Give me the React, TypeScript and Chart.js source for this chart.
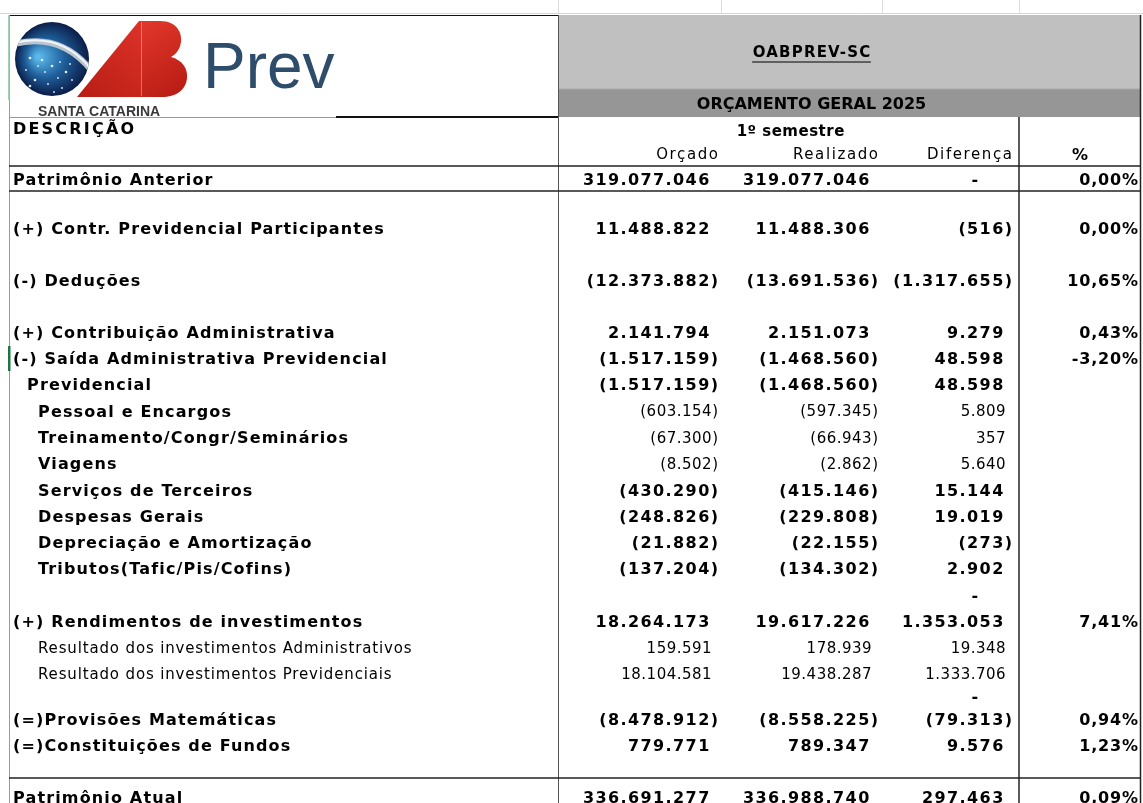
import React, { useEffect, useRef } from 'react';
import { Chart, registerables } from 'chart.js';

Chart.register(...registerables);

// ---------------- DATA ----------------
const sheetTitle = 'OABPREV-SC';
const budgetTitle = 'ORÇAMENTO GERAL 2025';
const periodLabel = '1º semestre';
const descHeader = 'DESCRIÇÃO';
const columnHeaders = ['Orçado', 'Realizado', 'Diferença', '%'];
const logoWord = 'Prev';
const logoSub = 'SANTA CATARINA';

const rowLabels = [
  'Patrimônio Anterior',
  '',
  '(+) Contr. Previdencial Participantes',
  '',
  '(-) Deduções',
  '',
  '(+) Contribuição Administrativa',
  '(-) Saída Administrativa Previdencial',
  'Previdencial',
  'Pessoal e Encargos',
  'Treinamento/Congr/Seminários',
  'Viagens',
  'Serviços de Terceiros',
  'Despesas Gerais',
  'Depreciação e Amortização',
  'Tributos(Tafic/Pis/Cofins)',
  '',
  '(+) Rendimentos de investimentos',
  'Resultado dos investimentos Administrativos',
  'Resultado dos investimentos Previdenciais',
  '',
  '(=)Provisões Matemáticas',
  '(=)Constituições de Fundos',
  '',
  'Patrimônio Atual',
];
const rowLevel = [0, 0, 0, 0, 0, 0, 0, 0, 1, 2, 2, 2, 2, 2, 2, 2, 0, 0, 2, 2, 0, 0, 0, 0, 0];
const labelBold = [1, 1, 1, 1, 1, 1, 1, 1, 1, 1, 1, 1, 1, 1, 1, 1, 1, 1, 0, 0, 1, 1, 1, 1, 1];
const valueBold = [1, 1, 1, 1, 1, 1, 1, 1, 1, 0, 0, 0, 1, 1, 1, 1, 1, 1, 0, 0, 1, 1, 1, 1, 1];

const orcado: (number | null)[] = [
  319077046, null, 11488822, null, -12373882, null, 2141794, -1517159, -1517159, -603154,
  -67300, -8502, -430290, -248826, -21882, -137204, null, 18264173, 159591, 18104581,
  null, -8478912, 779771, null, 336691277,
];
const realizado: (number | null)[] = [
  319077046, null, 11488306, null, -13691536, null, 2151073, -1468560, -1468560, -597345,
  -66943, -2862, -415146, -229808, -22155, -134302, null, 19617226, 178939, 19438287,
  null, -8558225, 789347, null, 336988740,
];
const diferenca: (number | null)[] = [
  0, null, -516, null, -1317655, null, 9279, 48598, 48598, 5809,
  357, 5640, 15144, 19019, -273, 2902, 0, 1353053, 19348, 1333706,
  0, -79313, 9576, null, 297463,
];
const percentual: (number | null)[] = [
  0.0, null, 0.0, null, 10.65, null, 0.43, -3.2, null, null,
  null, null, null, null, null, null, null, 7.41, null, null,
  null, 0.94, 1.23, null, 0.09,
];

// ---------------- LAYOUT / STYLE ----------------
const W = 1143;
const H = 803;
const COL_EDGES = [9, 558, 721, 882, 1019, 1141];
const COL_RIGHT = [718, 878, 1012, 1138];
const INDENT = [13, 27, 38];
// sheet row heights: title block, band, description row, column header row, then body rows
const SHEET_TOP = 15;
const HEAD_HEIGHTS = [74, 28, 24, 25];
const BODY_HEIGHTS = [
  25, 24, 26, 26, 26, 26, 26, 26,
  26.3, 26.3, 26.3, 26.3, 26.3, 26.3, 26.3, 26.3, 26.3, 26.3, 26.3, 26.3,
  19, 26, 26, 20.4, 38,
];
const TEXT_DY = 2;

const FONT_LABEL_B = 'bold 16px "DejaVu Sans"';
const FONT_NUM_B = 'bold 16px "DejaVu Sans"';
const FONT_REG = '15px "DejaVu Sans"';

function fmtInt(v: number) {
  return Math.abs(v).toString().replace(/\B(?=(\d{3})+(?!\d))/g, '.');
}

function drawText(
  ctx: CanvasRenderingContext2D,
  s: string,
  x: number,
  y: number,
  align: CanvasTextAlign,
  font: string,
  spacing = 0,
  color = '#000'
) {
  ctx.font = font;
  (ctx as any).letterSpacing = spacing + 'px';
  ctx.textAlign = align;
  ctx.textBaseline = 'middle';
  ctx.fillStyle = color;
  let xx = x;
  if (align === 'right') xx = x + spacing;
  else if (align === 'center') xx = x + spacing / 2;
  ctx.fillText(s, xx, y + TEXT_DY);
  (ctx as any).letterSpacing = '0px';
}

function measure(ctx: CanvasRenderingContext2D, s: string, font: string, spacing = 0) {
  ctx.font = font;
  (ctx as any).letterSpacing = spacing + 'px';
  const w = ctx.measureText(s).width;
  (ctx as any).letterSpacing = '0px';
  return w;
}

function hLine(ctx: CanvasRenderingContext2D, x1: number, x2: number, y: number, w: number, c: string) {
  ctx.strokeStyle = c;
  ctx.lineWidth = w;
  ctx.beginPath();
  ctx.moveTo(x1, y);
  ctx.lineTo(x2, y);
  ctx.stroke();
}
function vLine(ctx: CanvasRenderingContext2D, x: number, y1: number, y2: number, w: number, c: string) {
  ctx.strokeStyle = c;
  ctx.lineWidth = w;
  ctx.beginPath();
  ctx.moveTo(x, y1);
  ctx.lineTo(x, y2);
  ctx.stroke();
}

function drawLogo(ctx: CanvasRenderingContext2D, subBaseline: number) {
  // globe
  const cx = 52, cy = 59, r = 37;
  const g = ctx.createRadialGradient(cx - 14, cy - 2, 2, cx, cy, r);
  g.addColorStop(0, '#5ab8ea');
  g.addColorStop(0.5, '#1f5f9c');
  g.addColorStop(1, '#0b1d47');
  ctx.fillStyle = g;
  ctx.beginPath();
  ctx.arc(cx, cy, r, 0, Math.PI * 2);
  ctx.fill();
  ctx.save();
  ctx.beginPath();
  ctx.arc(cx, cy, r, 0, Math.PI * 2);
  ctx.clip();
  ctx.strokeStyle = '#b8c4cf';
  ctx.lineWidth = 6;
  ctx.beginPath();
  ctx.moveTo(10, 45);
  ctx.quadraticCurveTo(62, 30, 94, 74);
  ctx.stroke();
  ctx.strokeStyle = '#f2f5f8';
  ctx.lineWidth = 2;
  ctx.beginPath();
  ctx.moveTo(10, 44);
  ctx.quadraticCurveTo(62, 29, 94, 73);
  ctx.stroke();
  ctx.fillStyle = '#e8eef5';
  const stars = [
    [30, 58], [38, 66], [45, 72], [52, 66], [60, 62], [26, 70], [35, 80], [48, 84],
    [58, 78], [66, 72], [72, 80], [62, 88], [42, 60], [70, 64], [54, 92], [30, 86],
  ];
  stars.forEach(([sx, sy], i) => {
    ctx.beginPath();
    ctx.arc(sx, sy, i % 3 === 0 ? 1.3 : 0.9, 0, Math.PI * 2);
    ctx.fill();
  });
  ctx.restore();

  // red A
  const rg = ctx.createLinearGradient(80, 96, 150, 20);
  rg.addColorStop(0, '#b81d14');
  rg.addColorStop(1, '#e0342a');
  ctx.fillStyle = rg;
  ctx.beginPath();
  ctx.moveTo(77, 97);
  ctx.lineTo(139, 21);
  ctx.lineTo(141, 21);
  ctx.lineTo(141, 97);
  ctx.closePath();
  ctx.fill();
  // red B
  const bg = ctx.createLinearGradient(140, 20, 188, 97);
  bg.addColorStop(0, '#e3382c');
  bg.addColorStop(1, '#b51a12');
  ctx.fillStyle = bg;
  ctx.beginPath();
  ctx.moveTo(141, 21);
  ctx.lineTo(160, 21);
  ctx.bezierCurveTo(178, 21, 182, 34, 181, 42);
  ctx.bezierCurveTo(180, 50, 175, 55, 171, 57);
  ctx.bezierCurveTo(182, 60, 188, 68, 187, 78);
  ctx.bezierCurveTo(186, 90, 176, 97, 162, 97);
  ctx.lineTo(141, 97);
  ctx.closePath();
  ctx.fill();
  ctx.strokeStyle = 'rgba(255,255,255,0.35)';
  ctx.lineWidth = 1;
  ctx.beginPath();
  ctx.moveTo(141.5, 22);
  ctx.lineTo(141.5, 96);
  ctx.stroke();

  // Prev
  ctx.font = '64px "Liberation Sans", Arial, sans-serif';
  ctx.textAlign = 'left';
  ctx.textBaseline = 'alphabetic';
  ctx.fillStyle = '#2e4d6b';
  ctx.fillText(logoWord, 203, 88);
  // SANTA CATARINA
  ctx.font = 'bold 14px "Liberation Sans", Arial, sans-serif';
  ctx.fillStyle = '#3a3a3a';
  ctx.fillText(logoSub, 38, subBaseline, 128);
}

const tablePlugin = {
  id: 'budgetTable',
  beforeDraw(chart: any) {
    const ctx: CanvasRenderingContext2D = chart.ctx;
    ctx.save();
    ctx.fillStyle = '#ffffff';
    ctx.fillRect(0, 0, chart.width, chart.height);
    ctx.restore();
  },
  afterDraw(chart: any) {
    const ctx: CanvasRenderingContext2D = chart.ctx;
    const xs = chart.scales.x;
    const ys = chart.scales.y;
    const X = (v: number) => xs.getPixelForValue(v);
    const Y = (v: number) => ys.getPixelForValue(v);

    // sheet row boundaries (in y-scale units)
    const headTops: number[] = [];
    let acc = SHEET_TOP;
    HEAD_HEIGHTS.forEach((h) => { headTops.push(acc); acc += h; });
    const bodyTop = acc;
    const rowTop: number[] = [];
    const rowMid: number[] = [];
    BODY_HEIGHTS.forEach((h) => { rowTop.push(acc); rowMid.push(acc + h / 2); acc += h; });
    const headMid = HEAD_HEIGHTS.map((h, i) => headTops[i] + h / 2);

    const edges = COL_EDGES.map(X);
    const left = edges[0];
    const right = edges[5];
    ctx.save();

    // excel top strip gridlines
    hLine(ctx, 0, W, 13.5, 1, '#d6d6d6');
    [edges[1], edges[2], edges[3], edges[4]].forEach((x) => vLine(ctx, x + 0.5, 0, 13, 1, '#dcdcdc'));

    const headTop = Y(headTops[0]);
    const bandTop = Y(headTops[1]);
    const bandBot = Y(headTops[2]);

    // gray header blocks
    ctx.fillStyle = '#c0c0c0';
    ctx.fillRect(edges[1], headTop, right - edges[1], bandTop - headTop);
    ctx.fillStyle = '#969696';
    ctx.fillRect(edges[1], bandTop, right - edges[1], bandBot - bandTop);
    hLine(ctx, edges[1], right, bandTop, 1, '#a8a8a8');

    // logo box
    ctx.strokeStyle = '#111';
    ctx.lineWidth = 1;
    ctx.strokeRect(left + 0.5, headTop + 0.5, edges[1] - left, bandBot - headTop);
    hLine(ctx, 336, edges[1], bandBot, 2, '#111');
    hLine(ctx, left, 336, bandBot + 0.5, 1, '#9a9a9a');
    drawLogo(ctx, bandBot - 1);

    // titles
    const titleX = (edges[1] + edges[4]) / 2 + 23;
    const tY = Y(headMid[0]) - 1;
    drawText(ctx, sheetTitle, titleX, tY, 'center', 'bold 15px "DejaVu Sans"', 1.2);
    const tw = measure(ctx, sheetTitle, 'bold 15px "DejaVu Sans"', 1.2);
    hLine(ctx, titleX - tw / 2, titleX + tw / 2, tY + 9 + TEXT_DY, 1, '#000');
    drawText(ctx, budgetTitle, titleX, Y(headMid[1]), 'center', 'bold 16px "DejaVu Sans"', 0);

    // sheet borders
    vLine(ctx, left + 0.5, headTop, H, 1, '#9a9a9a');
    vLine(ctx, right - 0.5, headTop, H, 1.5, '#222');
    vLine(ctx, edges[1] + 0.5, headTop, H, 1, '#555');
    vLine(ctx, edges[4], bandBot, H, 1.5, '#222');
    ctx.fillStyle = '#9fd3b5';
    ctx.fillRect(left - 1, headTop, 1.5, 85);
    ctx.fillStyle = '#217346';
    ctx.fillRect(left - 1, Y(rowTop[7]) + 1, 2.5, Y(rowTop[8]) - Y(rowTop[7]) - 1);

    // column headers
    drawText(ctx, descHeader, X(INDENT[0]), Y(headMid[2]) - 1, 'left', FONT_LABEL_B, 2.2);
    drawText(ctx, periodLabel, (edges[1] + edges[4]) / 2 + 2, Y(headMid[2]) + 1, 'center', 'bold 15px "DejaVu Sans"', 0.5);
    const colRight = COL_RIGHT.map(X);
    for (let c = 0; c < 3; c++) {
      drawText(ctx, columnHeaders[c], colRight[c], Y(headMid[3]), 'right', FONT_REG, 1.6);
    }
    drawText(ctx, columnHeaders[3], (edges[4] + edges[5]) / 2, Y(headMid[3]), 'center', FONT_LABEL_B, 0);

    // horizontal rules
    hLine(ctx, left, right, Y(bodyTop), 1.5, '#222');
    hLine(ctx, left, right, Y(rowTop[1]), 1.5, '#222');
    hLine(ctx, left, right, Y(rowTop[24]), 1.5, '#222');

    // rows
    const series = [orcado, realizado, diferenca];
    rowLabels.forEach((label, r) => {
      const y = Y(rowMid[r]);
      if (label) {
        const f = labelBold[r] ? FONT_LABEL_B : FONT_REG;
        drawText(ctx, label, X(INDENT[rowLevel[r]]), y, 'left', f, labelBold[r] ? 1.15 : 0.85);
      }
      const nf = valueBold[r] ? FONT_NUM_B : FONT_REG;
      const sp = valueBold[r] ? 1.4 : 0.5;
      const parenW = measure(ctx, ')', nf, sp);
      const digitW = measure(ctx, '0', nf, sp);
      series.forEach((arr, c) => {
        const v = arr[r];
        if (v === null || v === undefined) return;
        const R = colRight[c];
        if (v === 0) {
          drawText(ctx, '-', R - parenW - 2 * digitW, y, 'right', nf, sp);
        } else if (v < 0) {
          drawText(ctx, '(' + fmtInt(v) + ')', R, y, 'right', nf, sp);
        } else {
          drawText(ctx, fmtInt(v), R - parenW, y, 'right', nf, sp);
        }
      });
      const p = percentual[r];
      if (p !== null && p !== undefined) {
        drawText(ctx, p.toFixed(2).replace('.', ',') + '%', colRight[3], y, 'right', FONT_NUM_B, 0.8);
      }
    });
    ctx.restore();
  },
};

export default function App() {
  const ref = useRef<HTMLCanvasElement | null>(null);
  useEffect(() => {
    if (!ref.current) return;
    const chart = new Chart(ref.current, {
      type: 'scatter',
      data: {
        datasets: [
          {
            label: 'rows',
            data: rowLabels.map((_, i) => ({ x: 0, y: i })),
            pointRadius: 0,
            showLine: false,
          },
        ],
      },
      options: {
        animation: false,
        responsive: false,
        devicePixelRatio: 1,
        layout: { padding: 0 },
        events: [],
        plugins: { legend: { display: false }, tooltip: { enabled: false }, title: { display: false } },
        scales: {
          x: { type: 'linear', min: 0, max: W, display: false },
          y: { type: 'linear', min: 0, max: H, reverse: true, display: false },
        },
      },
      plugins: [tablePlugin],
    });
    return () => chart.destroy();
  }, []);
  return (
    <div style={{ position: 'fixed', left: 0, top: 0, width: W, height: H, background: '#fff', overflow: 'hidden' }}>
      <canvas ref={ref} width={W} height={H} style={{ display: 'block', width: W, height: H }} />
    </div>
  );
}
